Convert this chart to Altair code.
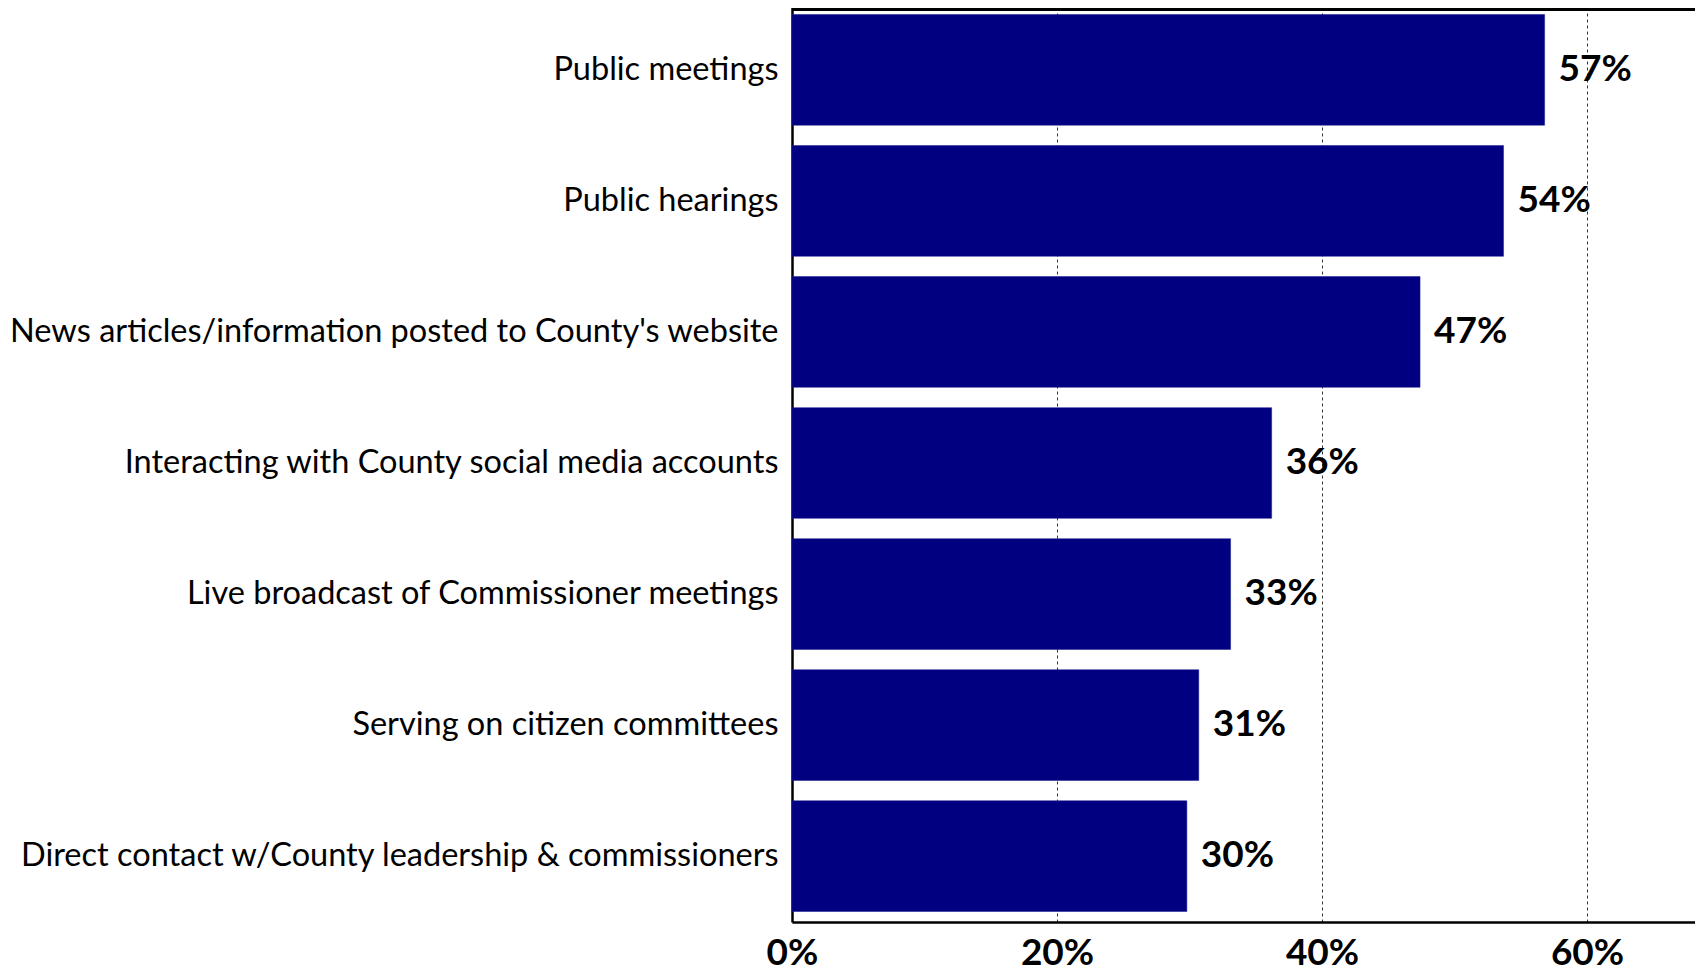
import altair as alt
import pandas as pd

categories = [
    "Public meetings",
    "Public hearings",
    "News articles/information posted to County's website",
    "Interacting with County social media accounts",
    "Live broadcast of Commissioner meetings",
    "Serving on citizen committees",
    "Direct contact w/County leadership & commissioners",
]
values = [0.568, 0.537, 0.474, 0.362, 0.331, 0.307, 0.298]
labels = ["57%", "54%", "47%", "36%", "33%", "31%", "30%"]
x_ticks = [0, 0.2, 0.4, 0.6]

df = pd.DataFrame({"cat": categories, "val": values, "lab": labels})

W = 903


def build(top_pad, H, rule_y):
    y = alt.Y(
        "cat:N",
        sort=categories,
        scale=alt.Scale(paddingInner=0.155, paddingOuter=0.08),
        axis=alt.Axis(
            title=None, labelFont="Lato", labelFontSize=32.5, labelColor="black",
            labelPadding=14, labelLimit=1000, ticks=False, domain=True,
            domainColor="black", domainWidth=2.5, grid=False,
        ),
    )
    x = alt.X(
        "val:Q",
        scale=alt.Scale(domain=[0, 0.6815], nice=False, zero=True),
        axis=alt.Axis(
            title=None, values=x_ticks, format=".0%", labelFont="Lato",
            labelFontSize=37, labelFontWeight="bold", labelColor="black",
            labelBaseline="alphabetic", labelPadding=42, labelFlush=False,
            ticks=False, domainColor="black", domainWidth=2.5,
            grid=True, gridColor="#333333", gridDash=[3, 3], gridWidth=1,
        ),
    )

    bars = alt.Chart(df).mark_bar(color="#000080", stroke="#1a1a90", strokeWidth=0.5).encode(x=x, y=y)
    text = alt.Chart(df).mark_text(
        align="left", baseline="middle", dx=14, font="Lato", fontSize=37,
        fontWeight="bold", color="black",
    ).encode(x="val:Q", y=alt.Y("cat:N", sort=categories), text="lab:N")
    top = alt.Chart(df).mark_rule(color="black", strokeWidth=2.5).encode(
        y=alt.value(rule_y), x=alt.value(0), x2=alt.value(W)
    )

    return (
        alt.layer(bars, text, top)
        .properties(
            width=W, height=H,
            padding={"left": 784, "top": top_pad, "right": 0, "bottom": 49},
            autosize=alt.AutoSizeParams(type="none"),
        )
        .configure_view(stroke=None)
    )


try:
    chart = build(-4, 918, 5.5)
    chart.to_dict()
except Exception:
    chart = build(0, 914, 1.5)

chart.save("out.html", embed_options={"renderer": "svg", "actions": False})
